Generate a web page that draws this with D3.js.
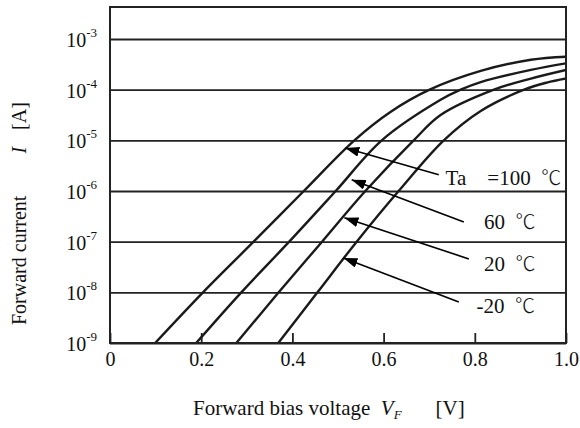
<!DOCTYPE html>
<html>
<head>
<meta charset="utf-8">
<script src="https://cdn.jsdelivr.net/npm/d3@7"></script>
<style>
  body { margin: 0; background: #fff; }
  text { font-family: "Liberation Serif", "Times New Roman", serif; fill: #111; }
</style>
</head>
<body>
<svg id="chart" width="580" height="428"></svg>
<script>
// forward voltage (V) and log10 of forward current (A)
var vf100 = [0.099, 0.204, 0.315, 0.425, 0.536, 0.615, 0.701, 0.813, 0.923, 1.0];
var logI100 = [-9, -8, -7, -6, -5, -4.44, -4.0, -3.63, -3.41, -3.35];
var vf60 = [0.189, 0.288, 0.393, 0.495, 0.596, 0.725, 0.769, 0.813, 0.923, 1.0];
var logI60 = [-9, -8, -7, -6, -5, -4.20, -4.0, -3.85, -3.61, -3.48];
var vf20 = [0.277, 0.370, 0.465, 0.560, 0.666, 0.725, 0.842, 0.923, 1.0];
var logI20 = [-9, -8, -7, -6, -5, -4.50, -4.0, -3.78, -3.61];
var vfm20 = [0.369, 0.455, 0.541, 0.633, 0.732, 0.813, 0.908, 0.958, 1.0];
var logIm20 = [-9, -8, -7, -6, -5, -4.42, -4.0, -3.86, -3.78];

var series = [[vf100, logI100], [vf60, logI60], [vf20, logI20], [vfm20, logIm20]];

var xTicks = [0, 0.2, 0.4, 0.6, 0.8, 1.0];
var xTickLabels = ["0", "0.2", "0.4", "0.6", "0.8", "1.0"];
var decades = [-9, -8, -7, -6, -5, -4, -3];

// annotation arrows (tail -> tip) and temperature labels, in data units [V, log10 I]
var tempLabels = ["Ta\u00a0\u00a0\u00a0\u00a0=100\u00a0\u00a0", "60\u00a0\u00a0", "20\u00a0\u00a0", "-20\u00a0\u00a0"];
var labelAt = [[0.736, -5.88], [0.820, -6.75], [0.820, -7.58], [0.804, -8.41]];
var arrowTail = [[0.721, -5.68], [0.776, -6.61], [0.787, -7.34], [0.765, -8.19]];
var arrowTip = [[0.516, -5.15], [0.530, -5.78], [0.514, -6.53], [0.512, -7.32]];

var margin = {top: 7, right: 14, bottom: 85, left: 110},
    width = 580 - margin.left - margin.right,
    height = 428 - margin.top - margin.bottom;

var svg = d3.select("#chart");
var g = svg.append("g")
    .attr("transform", "translate(" + margin.left + "," + margin.top + ")");

var x = d3.scaleLinear().domain([0, 1]).range([0, width]);
var y = d3.scaleLog().domain([1e-9, Math.pow(10, -2.368)]).range([height, 0]);

function p10(v) { return Math.pow(10, v); }

svg.append("defs").append("clipPath").attr("id", "plotclip")
  .append("rect").attr("width", width).attr("height", height);

svg.select("defs").append("marker")
    .attr("id", "head")
    .attr("viewBox", "0 0 14 10")
    .attr("refX", 14).attr("refY", 5)
    .attr("markerWidth", 14).attr("markerHeight", 10)
    .attr("markerUnits", "userSpaceOnUse")
    .attr("orient", "auto")
  .append("path").attr("d", "M0,0 L14,5 L0,10 Z").attr("fill", "#000");

// gridlines at every decade
var yAxis = g.append("g")
    .call(d3.axisLeft(y).tickValues(decades.map(p10)).tickSize(-width).tickFormat(""));
yAxis.select(".domain").remove();
yAxis.selectAll("line").attr("stroke", "#222").attr("stroke-width", 1.8);

// y tick labels 10^n
decades.forEach(function(k) {
  var t = g.append("text")
      .attr("x", -13)
      .attr("y", y(p10(k)) + 8)
      .attr("text-anchor", "end")
      .style("font-size", "20px");
  t.append("tspan").text("10");
  t.append("tspan").attr("dy", -10).style("font-size", "13px").text(String(k));
});

// x axis with inward ticks
var xAxis = g.append("g")
    .attr("transform", "translate(0," + height + ")")
    .call(d3.axisBottom(x).tickValues(xTicks).tickSize(-10).tickPadding(9)
      .tickFormat(function(d, i) { return xTickLabels[i]; }));
xAxis.select(".domain").remove();
xAxis.selectAll("line").attr("stroke", "#222").attr("stroke-width", 1.8);
xAxis.selectAll("text").style("font-size", "20px")
    .style("font-family", "'Liberation Serif', 'Times New Roman', serif").attr("fill", "#111");

// curves
var line = d3.line()
    .x(function(d) { return x(d[0]); })
    .y(function(d) { return y(p10(d[1])); })
    .curve(d3.curveCatmullRom.alpha(0.5));

g.append("g").attr("clip-path", "url(#plotclip)")
  .selectAll("path.curve")
  .data(series)
  .enter().append("path")
    .attr("class", "curve")
    .attr("d", function(s) { return line(d3.zip(s[0], s[1])); })
    .attr("fill", "none")
    .attr("stroke", "#1a1a1a")
    .attr("stroke-width", 2.4);

// frame
g.append("rect")
    .attr("width", width).attr("height", height)
    .attr("fill", "none").attr("stroke", "#222").attr("stroke-width", 2);

// arrows
g.selectAll("line.arrow")
  .data(arrowTail)
  .enter().append("line")
    .attr("class", "arrow")
    .attr("x1", function(d) { return x(d[0]); })
    .attr("y1", function(d) { return y(p10(d[1])); })
    .attr("x2", function(d, i) { return x(arrowTip[i][0]); })
    .attr("y2", function(d, i) { return y(p10(arrowTip[i][1])); })
    .attr("stroke", "#000").attr("stroke-width", 1.6)
    .attr("marker-end", "url(#head)");

var temps = g.selectAll("text.temp")
  .data(tempLabels)
  .enter().append("text")
    .attr("class", "temp")
    .attr("x", function(d, i) { return x(labelAt[i][0]); })
    .attr("y", function(d, i) { return y(p10(labelAt[i][1])); })
    .style("font-size", "21px");
temps.append("tspan").text(function(d) { return d; });
temps.append("tspan")
    .style("font-family", "'Noto Sans CJK JP', 'DejaVu Sans', sans-serif")
    .style("font-size", "20px")
    .style("font-weight", "300")
    .text("\u2103");

// x axis title
var xt = svg.append("text")
    .attr("x", 193).attr("y", 415)
    .style("font-size", "21px");
xt.append("tspan").text("Forward bias voltage\u00a0\u00a0");
xt.append("tspan").style("font-style", "italic").text("V");
xt.append("tspan").attr("dy", 4).style("font-size", "13px").style("font-style", "italic").text("F");
xt.append("tspan").attr("dx", 34).attr("dy", -4).text("[V]");

// y axis title
var yt = svg.append("text")
    .attr("transform", "translate(26,325) rotate(-90)")
    .style("font-size", "20px");
yt.append("tspan").text("Forward current");
yt.append("tspan").attr("dx", 42).style("font-style", "italic").text("I");
yt.append("tspan").attr("dx", 17).text("[A]");
</script>
</body>
</html>
